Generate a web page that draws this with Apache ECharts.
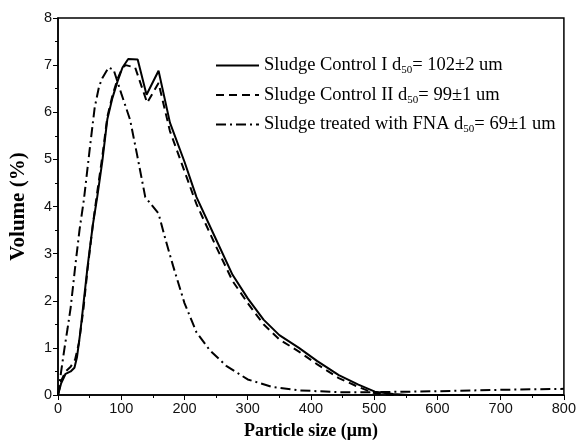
<!DOCTYPE html>
<html><head><meta charset="utf-8">
<script src="https://cdn.jsdelivr.net/npm/echarts@6/dist/echarts.min.js"></script>
<style>html,body{margin:0;padding:0;background:#fff}#c{width:579px;height:445px}</style>
</head><body><div id="c"></div>
<script>
// Sludge Control I
var xI = [0,5,12,20,26,30,35,40,47,55,62,70,78,86,94,102,111,126,140,159,177,200,219,250,276,300,325,350,381,410,444,475,501,530,554,600,700,800];
var yI = [0,0.25,0.45,0.5,0.58,0.8,1.3,1.9,2.75,3.6,4.2,4.95,5.85,6.3,6.65,6.95,7.13,7.12,6.37,6.88,5.78,4.95,4.2,3.3,2.55,2.05,1.6,1.27,1.0,0.72,0.42,0.22,0.07,0.02,0,0,0,0];
// Sludge Control II
var xII = [0,5,12,20,27,33,40,47,55,62,70,78,86,94,102,107,122,141,159,177,200,219,250,276,300,325,350,381,410,444,475,500,525,600,800];
var yII = [0,0.3,0.5,0.6,0.75,1.1,1.8,2.7,3.6,4.3,5.05,5.9,6.35,6.7,6.95,7.0,6.95,6.2,6.62,5.6,4.75,4.05,3.15,2.42,1.95,1.5,1.18,0.92,0.65,0.36,0.17,0.04,0,0,0];
// Sludge treated with FNA
var xF = [0,5,10,15,20,27,34,41,50,58,65,70,80,88,100,114,125,138,159,170,182,200,219,240,266,300,339,380,444,500,600,700,800];
var yF = [0,0.5,0.97,1.4,1.85,2.7,3.5,4.15,5.2,6.1,6.55,6.72,6.95,6.9,6.4,5.84,5.1,4.2,3.85,3.3,2.74,1.95,1.33,0.95,0.62,0.33,0.17,0.1,0.06,0.06,0.08,0.11,0.13];
var names = ['Sludge Control I','Sludge Control II','Sludge treated with FNA'];
var d50 = ['= 102\u00b12 um','= 99\u00b11 um','= 69\u00b11 um'];
var xTicks = [0,100,200,300,400,500,600,700,800];

function zip(a,b){return a.map(function(v,i){return [v,b[i]];});}
var chart = echarts.init(document.getElementById('c'));
var serif = 'Liberation Serif, Times New Roman, serif';
var sans = 'Liberation Sans, Arial, sans-serif';
function axisCommon(nameSize){ return {
  axisLine:{show:true,lineStyle:{color:'#000',width:1.5}},
  axisTick:{show:true,inside:false,length:5,lineStyle:{color:'#000',width:1}},
  minorTick:{show:true,splitNumber:2,length:3,lineStyle:{color:'#000',width:1}},
  splitLine:{show:false},
  axisLabel:{color:'#111',fontFamily:sans,fontSize:14.5,margin:6},
  nameTextStyle:{color:'#000',fontFamily:serif,fontSize:nameSize,fontWeight:'bold'}
};}
chart.setOption({
  animation:false,
  grid:{left:57,right:12,top:18,bottom:49,show:true,borderColor:'#000',borderWidth:1.5,backgroundColor:'transparent'},
  xAxis:Object.assign({type:'value',min:0,max:800,interval:100,name:'Particle size (\u03bcm)',nameLocation:'middle',nameGap:27},axisCommon(18)),
  yAxis:Object.assign({type:'value',min:0,max:8,interval:1,name:'Volume (%)',nameLocation:'middle',nameGap:29},axisCommon(21)),
  legend:{
    left:215,top:55,padding:0,orient:'vertical',itemWidth:43,itemHeight:12,itemGap:8.5,
    data:names,
    itemStyle:{color:'rgba(0,0,0,0)',borderColor:'rgba(0,0,0,0)',borderWidth:0},
    formatter:function(n){var i=names.indexOf(n);return '{a|'+n+' d}{s|50}{a|'+d50[i]+'}';},
    textStyle:{color:'#000',fontFamily:serif,fontSize:18.5,
      rich:{a:{fontFamily:serif,fontSize:18.5,color:'#000',lineHeight:20},
            s:{fontFamily:serif,fontSize:11,color:'#000',padding:[10,0,0,0],lineHeight:20}}}
  },
  series:[
    {name:names[0],type:'line',data:zip(xI,yI),showSymbol:false,symbol:'none',lineStyle:{color:'#000',width:2,type:'solid'},itemStyle:{color:'#000'}},
    {name:names[1],type:'line',data:zip(xII,yII),showSymbol:false,symbol:'none',lineStyle:{color:'#000',width:2,type:[8,5]},itemStyle:{color:'#000'}},
    {name:names[2],type:'line',data:zip(xF,yF),showSymbol:false,symbol:'none',lineStyle:{color:'#000',width:2,type:[10,4,2,4]},itemStyle:{color:'#000'}}
  ]
});
</script></body></html>
